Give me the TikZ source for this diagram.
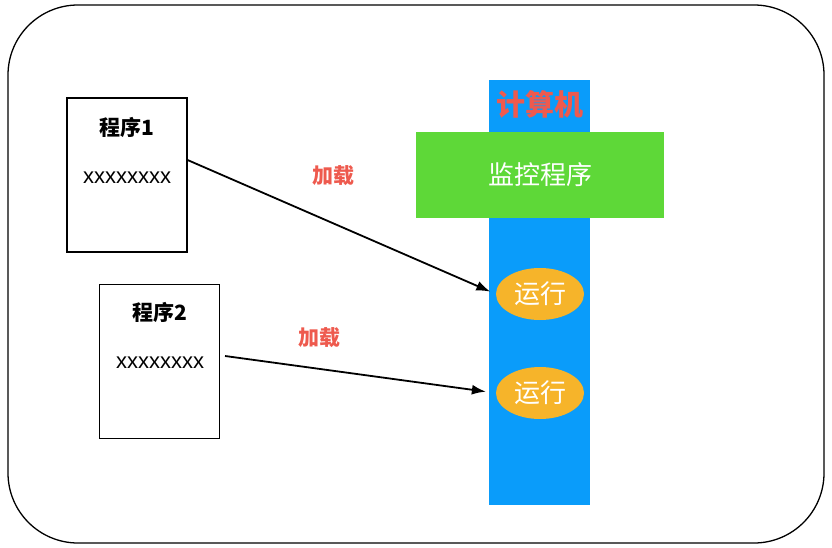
\documentclass[tikz,border=0pt]{standalone}
\usepackage{fontspec}
\setmainfont{Liberation Sans}
\newfontfamily\cjk{Noto Sans CJK SC}
\usepackage{xcolor}
\usetikzlibrary{calc,shapes.geometric,arrows.meta}
\definecolor{barblue}{HTML}{0A9CFA}
\definecolor{monigreen}{HTML}{5ED838}
\definecolor{runorange}{HTML}{F6B42A}
\definecolor{loadred}{HTML}{EE5A4E}
\tikzset{
  progbox/.style={draw,line width=1.1pt,minimum width=120pt,minimum height=154pt,inner sep=0pt},
  progtitle/.style={font=\cjk\bfseries\fontsize{21}{23}\selectfont},
  progtext/.style={font=\fontsize{22}{24}\selectfont},
  bar/.style={fill=barblue,minimum width=101pt,minimum height=425pt,inner sep=0pt},
  monitor/.style={fill=monigreen,minimum width=248pt,minimum height=86pt,inner sep=0pt,
    text=white,font=\cjk\fontsize{26}{28}\selectfont},
  runnode/.style={ellipse,fill=runorange,minimum width=88pt,minimum height=52pt,inner sep=0pt,
    text=white,font=\cjk\fontsize{26}{28}\selectfont},
  loadlabel/.style={text=loadred,font=\cjk\bfseries\fontsize{21}{23}\selectfont},
  loadarrow/.style={line width=1.8pt,-{Latex[length=14pt,width=10pt]}}
}

\begin{document}
\begin{tikzpicture}[x=1pt,y=-1pt]
\useasboundingbox (0,0) rectangle (832,548);

% Outer frame
\draw[line width=1.3pt,rounded corners=70pt] (8,5) rectangle (824,543);

% Programs 1 and 2
\node[progbox] (prog1) at (127,175) {};
\node[progtitle] (title1) at (127,127) {程序1};
\node[progtext] (code1) at (127,178) {xxxxxxxx};
\node[progbox] (prog2) at (159.5,361.5) {};
\node[progtitle] (title2) at (160,312) {程序2};
\node[progtext] (code2) at (160,363) {xxxxxxxx};

% Computer
\node[bar] (computer) at (539.5,292.5) {};
\node[text=loadred,font=\cjk\bfseries\fontsize{29}{31}\selectfont] (comptitle) at (540,104) {计算机};
\node[monitor] (moni) at (540,175) {监控程序};

% Running programs
\node[runnode] (run1) at (540,294) {运行};
\node[runnode] (run2) at (540,393) {运行};

% Loading
\draw[loadarrow,shorten >=6pt] ($(prog1.east)+(0,-15)$) to (run1.west);
\draw[loadarrow,shorten >=10pt] ($(prog2.east)+(5,-5.5)$) to (run2.west);
\node[loadlabel] (load1) at (333,176) {加载};
\node[loadlabel] (load2) at (319,338) {加载};
\end{tikzpicture}
\end{document}
